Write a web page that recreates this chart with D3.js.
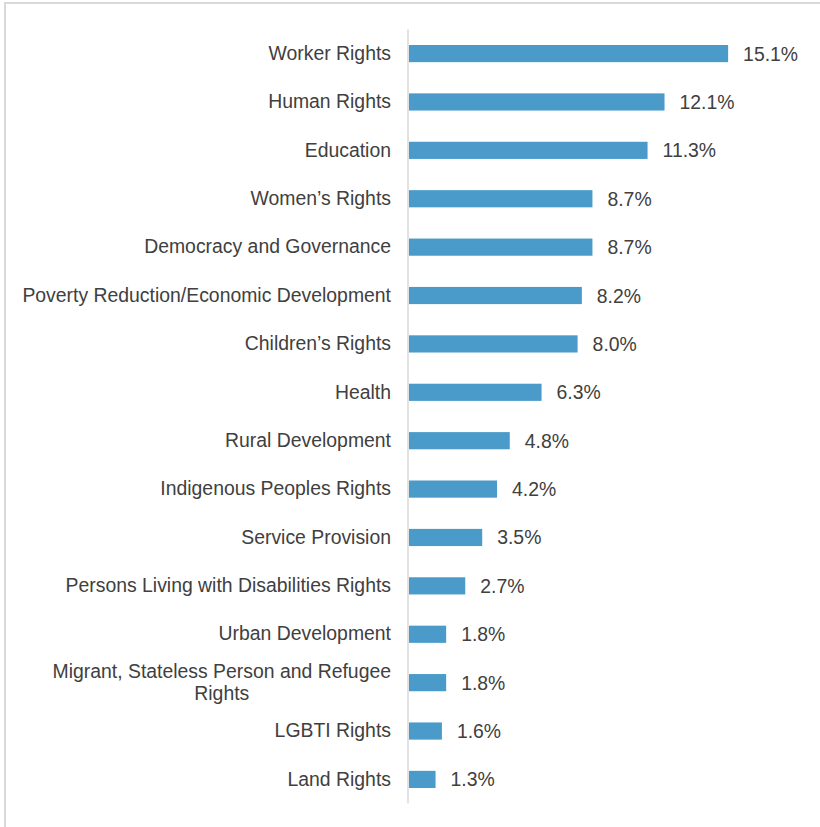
<!DOCTYPE html>
<html>
<head>
<meta charset="utf-8">
<script src="https://cdn.jsdelivr.net/npm/d3@7"></script>
<style>
  html, body { margin: 0; padding: 0; background: #fff; }
  svg { display: block; font-family: "Liberation Sans", Arial, Helvetica, sans-serif; }
</style>
</head>
<body>
<svg id="chart" width="820" height="827"></svg>
<script>
// Share of organisations by focus area
const categories = [
  "Worker Rights",
  "Human Rights",
  "Education",
  "Women\u2019s Rights",
  "Democracy and Governance",
  "Poverty Reduction/Economic Development",
  "Children\u2019s Rights",
  "Health",
  "Rural Development",
  "Indigenous Peoples Rights",
  "Service Provision",
  "Persons Living with Disabilities Rights",
  "Urban Development",
  "Migrant, Stateless Person and Refugee Rights",
  "LGBTI Rights",
  "Land Rights"
];
const values = [15.1, 12.1, 11.3, 8.7, 8.7, 8.2, 8.0, 6.3, 4.8, 4.2, 3.5, 2.7, 1.8, 1.8, 1.6, 1.3];
// Category labels that break onto two lines
const labelLines = {
  "Migrant, Stateless Person and Refugee Rights": ["Migrant, Stateless Person and Refugee", "Rights"]
};

const svg = d3.select("#chart");
const W = 820, H = 827;
const fontSize = 19.4;

// outer frame (top and left edges)
svg.append("line").attr("x1", 4).attr("x2", W).attr("y1", 3).attr("y2", 3)
  .attr("stroke", "#d9d9d9").attr("stroke-width", 2);
svg.append("line").attr("x1", 5).attr("x2", 5).attr("y1", 3).attr("y2", H)
  .attr("stroke", "#d9d9d9").attr("stroke-width", 2);

const x0 = 408;
const x = d3.scaleLinear().domain([0, 16]).range([x0, x0 + 16 * 21.2]);
const y = d3.scaleBand().domain(categories).range([29.5, 803.5]).paddingInner(0.645).paddingOuter(0.32);

const data = categories.map((c, i) => ({ cat: c, v: values[i] }));

// bars
svg.append("g").selectAll("rect").data(data).join("rect")
  .attr("x", x(0) + 1)
  .attr("y", d => y(d.cat))
  .attr("width", d => x(d.v) - x(0) - 1)
  .attr("height", y.bandwidth())
  .attr("fill", "#4a9bca");

// category axis
const axis = svg.append("g").attr("transform", `translate(${x0},0)`)
  .call(d3.axisLeft(y).tickSize(0).tickPadding(17));
axis.select(".domain").attr("stroke", "#d9d9d9").attr("stroke-width", 1.5)
  .attr("d", `M0,${29.5}V${803.5}`);
axis.selectAll(".tick text")
  .attr("font-size", fontSize)
  .attr("fill", "#404040")
  .attr("font-family", "\"Liberation Sans\", Arial, Helvetica, sans-serif")
  .each(function(d) {
    const lines = labelLines[d];
    if (!lines) return;
    const t = d3.select(this).text(null).attr("text-anchor", "middle");
    lines.forEach((ln, i) => {
      t.append("tspan").attr("dy", i === 0 ? "-0.25em" : "1.12em").text(ln);
    });
    // centre both lines on the first (widest) line, which ends at the label edge
    const spans = t.selectAll("tspan");
    const w = spans.node().getComputedTextLength();
    spans.attr("x", -17 - w / 2);
  });

// value labels
svg.append("g").selectAll("text").data(data).join("text")
  .attr("x", d => x(d.v) + 15)
  .attr("y", d => y(d.cat) + y.bandwidth() / 2)
  .attr("dy", "0.36em")
  .attr("font-size", fontSize)
  .attr("fill", "#404040")
  .text(d => d.v.toFixed(1) + "%");
</script>
</body>
</html>
